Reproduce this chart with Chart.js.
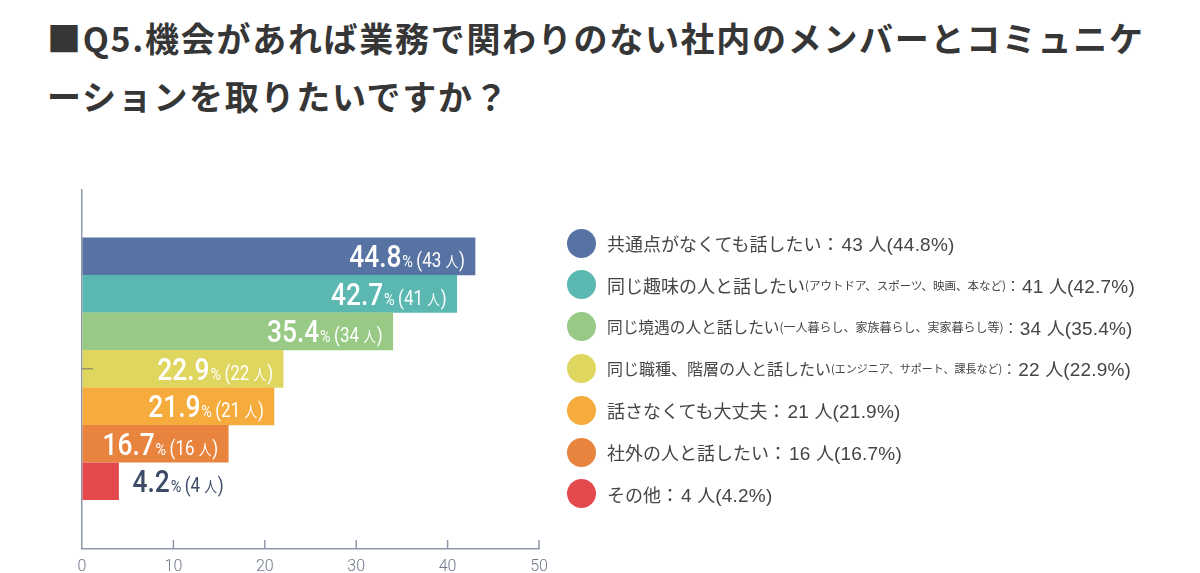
<!DOCTYPE html>
<html>
<head>
<meta charset="utf-8">
<script src="https://cdn.jsdelivr.net/npm/chart.js@4.4.0/dist/chart.umd.min.js"></script>
<style>
body { margin: 0; background: #fff; }
#wrap { position: relative; width: 1200px; height: 573px; overflow: hidden; }
#title { position: absolute; left: 47px; top: 9px; margin: 0; font: 700 34px "Noto Sans CJK JP"; letter-spacing: 1.7px; line-height: 58px; color: #363636; white-space: nowrap; }
canvas { position: absolute; left: 0; top: 0; }
#legend { position: absolute; left: 567px; top: 0; }
.item { position: absolute; left: 0; height: 29px; display: flex; align-items: center; white-space: nowrap; font-family: "Noto Sans CJK JP"; font-weight: 400; color: #454545; }
.dot { width: 29px; height: 29px; border-radius: 50%; margin-right: 11px; flex: none; }
.num { font-family: "Liberation Sans", "Noto Sans CJK JP"; font-size: 19px; letter-spacing: 0.2px; margin-left: 2px; }
.num .jp { font-family: "Noto Sans CJK JP"; font-size: 18px; letter-spacing: 0; }
</style>
</head>
<body>
<div id="wrap">
  <div id="title">■Q5.機会があれば業務で関わりのない社内のメンバーとコミュニケ<br>ーションを取りたいですか？</div>
  <canvas id="myChart" width="1200" height="573"></canvas>
  <div id="legend"></div>
</div>
<script>
// datos
const labels = ['共通点がなくても話したい', '同じ趣味の人と話したい', '同じ境遇の人と話したい', '同じ職種、階層の人と話したい', '話さなくても大丈夫', '社外の人と話したい', 'その他'];
const notes = ['', '(アウトドア、スポーツ、映画、本など)', '(一人暮らし、家族暮らし、実家暮らし等)', '(エンジニア、サポート、課長など)', '', '', ''];
const counts = [43, 41, 34, 22, 21, 16, 4];
const percents = [44.8, 42.7, 35.4, 22.9, 21.9, 16.7, 4.2];
const colors = ['#5773a3', '#5bb8b1', '#98ca86', '#ded65f', '#f6ab3d', '#e8843d', '#e44a4c'];
const xTicks = [0, 10, 20, 30, 40, 50];

const axisColor = '#8e97ab';

// leyenda (tamaños de letra por fila, como en la imagen)
const legendMainPx = [18, 18, 15.7, 16, 18, 18, 18];
const legendNotePx = [11.5, 11.5, 12, 11, 11.5, 11.5, 11.5];
const legend = document.getElementById('legend');
labels.forEach((label, i) => {
    const item = document.createElement('div');
    item.className = 'item';
    item.style.top = (228.5 + i * 41.8) + 'px';
    item.innerHTML = `
        <span class="dot" style="background:${colors[i]}"></span>
        <span style="font-size:${legendMainPx[i]}px">${label}</span><span style="font-size:${legendNotePx[i]}px">${notes[i]}</span><span style="font-size:${notes[i] ? 14 : legendMainPx[i]}px">：</span><span class="num">${counts[i]} <span class="jp">人</span>(${percents[i]}%)</span>
    `;
    legend.appendChild(item);
});

// etiquetas dentro de las barras
const barLabels = {
    id: 'barLabels',
    afterDatasetsDraw(chart) {
        const ctx = chart.ctx;
        const meta = chart.getDatasetMeta(0);
        const sx = 0.85;
        meta.data.forEach((bar, i) => {
            const parts = [
                { t: percents[i].toFixed(1), f: '500 31px Roboto', gap: 1 },
                { t: '%', f: '400 17px Roboto', gap: 4 },
                { t: '(' + counts[i] + ' ', f: '400 20px Roboto', gap: 0 },
                { t: '人', f: '400 15px "Noto Sans CJK JP"', gap: 1 },
                { t: ')', f: '400 20px Roboto', gap: 0 }
            ];
            let total = 0;
            parts.forEach(p => {
                ctx.font = p.f;
                p.w = ctx.measureText(p.t).width;
                total += p.w + p.gap;
            });
            const inside = bar.x - bar.base > total * sx + 20;
            const x0 = inside ? bar.x - 10 - total * sx : bar.x + 14;
            ctx.save();
            ctx.translate(x0, bar.y + 11);
            ctx.scale(sx, 1);
            ctx.fillStyle = inside ? '#ffffff' : '#3d4b66';
            ctx.textBaseline = 'alphabetic';
            ctx.textAlign = 'left';
            let cx = 0;
            parts.forEach(p => {
                ctx.font = p.f;
                ctx.fillText(p.t, cx, 0);
                cx += p.w + p.gap;
            });
            ctx.restore();
        });
    }
};

// marcas del eje hacia adentro
const innerTicks = {
    id: 'innerTicks',
    afterDraw(chart) {
        const { ctx, chartArea, scales: { x, y } } = chart;
        ctx.save();
        ctx.strokeStyle = axisColor;
        ctx.lineWidth = 1.5;
        xTicks.forEach(v => {
            if (v === 0) return;
            const px = x.getPixelForValue(v);
            ctx.beginPath();
            ctx.moveTo(px, chartArea.bottom);
            ctx.lineTo(px, chartArea.bottom - 9);
            ctx.stroke();
        });
        const py = y.getPixelForValue(3);
        ctx.strokeStyle = '#77776a';
        ctx.lineWidth = 1;
        ctx.beginPath();
        ctx.moveTo(chartArea.left, py);
        ctx.lineTo(chartArea.left + 11, py);
        ctx.stroke();
        ctx.restore();
    }
};

const ctx = document.getElementById('myChart').getContext('2d');
const myChart = new Chart(ctx, {
    type: 'bar',
    data: {
        datasets: [{
            data: counts.map((v, i) => ({ x: v, y: i })),
            backgroundColor: colors,
            barThickness: 37,
            borderWidth: 0
        }]
    },
    options: {
        indexAxis: 'y',
        responsive: false,
        animation: false,
        layout: { padding: { left: 82, right: 661, top: 189, bottom: 0 } },
        plugins: {
            legend: { display: false },
            tooltip: { enabled: false }
        },
        scales: {
            x: {
                min: 0,
                max: 50,
                afterBuildTicks: s => { s.ticks = xTicks.map(v => ({ value: v })); },
                afterFit: s => { s.height = 24; },
                ticks: {
                    color: '#6f7889',
                    padding: 8,
                    font: { family: 'Roboto', size: 16, weight: 300 }
                },
                grid: {
                    drawTicks: false,
                    lineWidth: 1.5,
                    color: c => (c.tick && c.tick.value === 0) ? axisColor : 'rgba(0,0,0,0)'
                },
                border: { color: axisColor, width: 1.5 }
            },
            y: {
                type: 'linear',
                display: false,
                reverse: true,
                min: -1.36,
                max: 7.37
            }
        }
    },
    plugins: [barLabels, innerTicks]
});
</script>
</body>
</html>
